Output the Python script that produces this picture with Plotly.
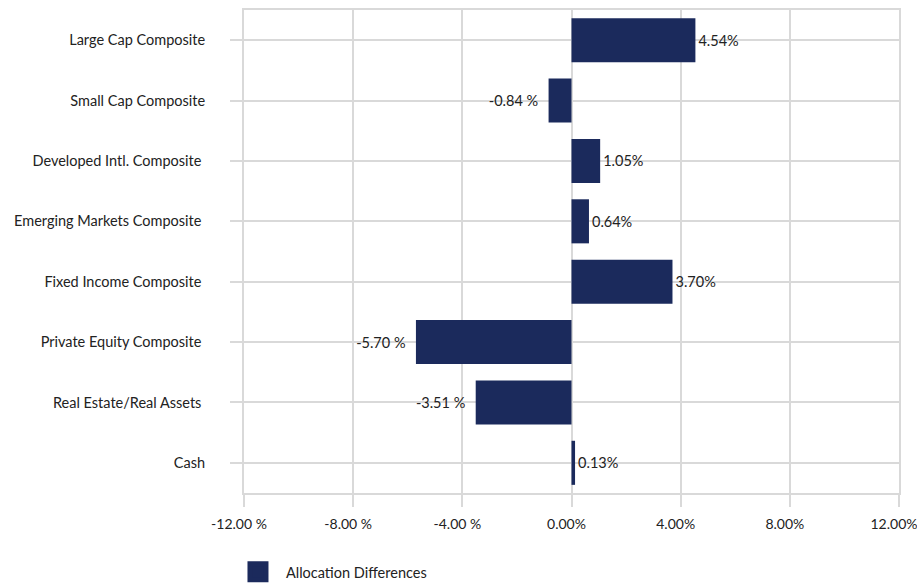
import plotly.graph_objects as go

categories = [
    "Large Cap Composite",
    "Small Cap Composite",
    "Developed Intl. Composite\u00a0",
    "Emerging Markets Composite\u00a0",
    "Fixed Income Composite\u00a0",
    "Private Equity Composite\u00a0",
    "Real Estate/Real Assets\u00a0",
    "Cash",
]
values = [4.54, -0.84, 1.05, 0.64, 3.70, -5.70, -3.51, 0.13]
tick_vals = [-12, -8, -4, 0, 4, 8, 12]
tick_text = ["-12.00 %", "-8.00 %", "-4.00 %", "0.00%", "4.00%", "8.00%", "12.00%"]
series_name = "Allocation Differences"

labels = [(f"{v:.2f}%" if v >= 0 else f"{v:.2f} %\u00a0\u00a0") for v in values]

FONT = "Lato"
FS = 14.5
GRID = "#d9d9d9"
NAVY = "#1b2a5c"
TXT = "#222222"

fig = go.Figure()
fig.add_trace(go.Bar(
    x=values, y=categories, orientation="h",
    marker=dict(color=NAVY, line=dict(width=0)),
    width=0.73,
    text=labels, textposition="outside", cliponaxis=False,
    textfont=dict(family=FONT, size=FS, color=TXT),
    name=series_name, showlegend=False,
))
# legend swatch (larger square like the reference legend)
fig.add_trace(go.Scatter(
    x=[None], y=[None], mode="markers", name=series_name,
    marker=dict(symbol="square", size=16, color=NAVY, line=dict(width=5, color=NAVY)),
    showlegend=True, hoverinfo="skip",
))

fig.update_layout(
    width=917, height=586,
    margin=dict(l=244, r=18, t=10, b=93, autoexpand=False),
    paper_bgcolor="white", plot_bgcolor="white",
    font=dict(family=FONT, size=FS, color=TXT),
    showlegend=True,
    legend=dict(orientation="h", xref="paper", x=-0.0214, xanchor="left",
                yref="container", y=0.024, yanchor="middle",
                itemwidth=46,
                font=dict(family=FONT, size=FS, color=TXT)),
    bargap=0.27,
)
fig.update_xaxes(
    range=[-12, 12], tickvals=tick_vals, ticktext=tick_text,
    showgrid=True, gridcolor=GRID, gridwidth=2,
    zeroline=False,
    showline=True, mirror=True, linecolor=GRID, linewidth=2,
    ticks="outside", ticklen=12, tickcolor=GRID, tickwidth=2,
    ticklabelstandoff=5, ticklabelshift=-5, ticklabeloverflow="allow",
    tickfont=dict(family=FONT, size=14, color=TXT),
)
fig.update_yaxes(
    categoryorder="array", categoryarray=categories, autorange="reversed",
    showgrid=True, gridcolor=GRID, gridwidth=2,
    showline=True, mirror=True, linecolor=GRID, linewidth=2,
    ticks="outside", ticklen=12, tickcolor=GRID, tickwidth=2,
    ticklabelstandoff=22,
    tickfont=dict(family=FONT, size=FS, color=TXT),
)

fig.write_html("out.html", config={"displayModeBar": False},
               post_script="document.body.style.margin='0';")
